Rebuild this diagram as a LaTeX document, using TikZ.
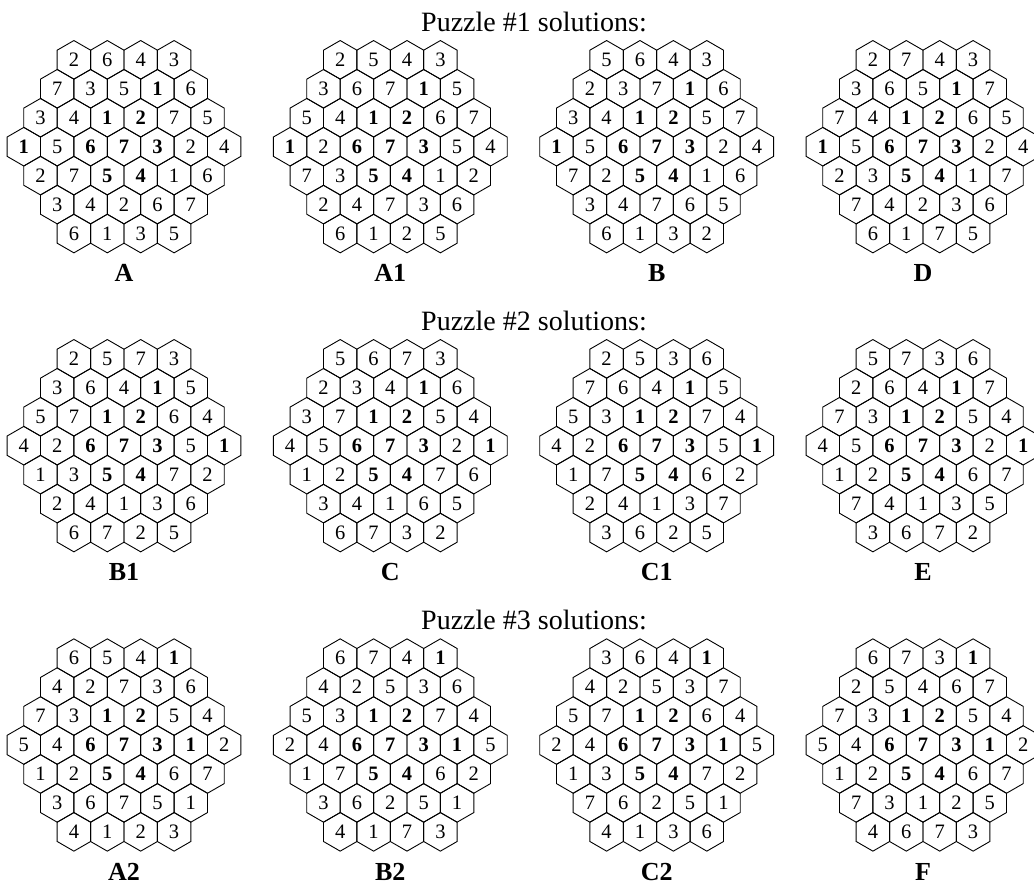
\documentclass[tikz,border=0pt]{standalone}
\usepackage{fontspec}
\setmainfont{Liberation Serif}
\usetikzlibrary{shapes.geometric}

\newcommand{\clue}[1]{\textbf{#1}}
\newcommand{\hexboard}[5]{%
  \foreach \row [count=\r] in {#5} {
    \foreach \v [count=\c] in \row {
      \pgfmathsetmacro{\hx}{#2+(\c-(8-abs(\r-4))/2)*33.4}
      \pgfmathsetmacro{\hy}{#3+(4-\r)*28.95}
      \node[cell] (#1-\r-\c) at (\hx,\hy) {\v};
    }
  }
  \node[boardlabel] (#1) at (#2,#3-135) {#4};
}

\begin{document}
\begin{tikzpicture}[x=1pt,y=1pt,
  cell/.style={draw,line width=0.9pt,regular polygon,regular polygon sides=6,
    shape border rotate=30,minimum size=38.6pt,inner sep=0pt,
    font=\fontsize{20.5}{24}\selectfont},
  boardlabel/.style={anchor=base,font=\bfseries\fontsize{26}{30}\selectfont},
  title/.style={anchor=base,font=\fontsize{28}{32}\selectfont}]
  \useasboundingbox (0,0) rectangle (1034,884);
  \clip (0,0) rectangle (1034,884);

  \node[title] (title1) at (534,852.3) {Puzzle \#1 solutions:};
  \hexboard{A}{124}{737.3}{A}{{2,6,4,3},{7,3,5,\clue1,6},{3,4,\clue1,\clue2,7,5},{\clue1,5,\clue6,\clue7,\clue3,2,4},{2,7,\clue5,\clue4,1,6},{3,4,2,6,7},{6,1,3,5}}
  \hexboard{A1}{390.3}{737.3}{A1}{{2,5,4,3},{3,6,7,\clue1,5},{5,4,\clue1,\clue2,6,7},{\clue1,2,\clue6,\clue7,\clue3,5,4},{7,3,\clue5,\clue4,1,2},{2,4,7,3,6},{6,1,2,5}}
  \hexboard{B}{656.7}{737.3}{B}{{5,6,4,3},{2,3,7,\clue1,6},{3,4,\clue1,\clue2,5,7},{\clue1,5,\clue6,\clue7,\clue3,2,4},{7,2,\clue5,\clue4,1,6},{3,4,7,6,5},{6,1,3,2}}
  \hexboard{D}{923}{737.3}{D}{{2,7,4,3},{3,6,5,\clue1,7},{7,4,\clue1,\clue2,6,5},{\clue1,5,\clue6,\clue7,\clue3,2,4},{2,3,\clue5,\clue4,1,7},{7,4,2,3,6},{6,1,7,5}}

  \node[title] (title2) at (534,553.3) {Puzzle \#2 solutions:};
  \hexboard{B1}{124}{438.3}{B1}{{2,5,7,3},{3,6,4,\clue1,5},{5,7,\clue1,\clue2,6,4},{4,2,\clue6,\clue7,\clue3,5,\clue1},{1,3,\clue5,\clue4,7,2},{2,4,1,3,6},{6,7,2,5}}
  \hexboard{C}{390.3}{438.3}{C}{{5,6,7,3},{2,3,4,\clue1,6},{3,7,\clue1,\clue2,5,4},{4,5,\clue6,\clue7,\clue3,2,\clue1},{1,2,\clue5,\clue4,7,6},{3,4,1,6,5},{6,7,3,2}}
  \hexboard{C1}{656.7}{438.3}{C1}{{2,5,3,6},{7,6,4,\clue1,5},{5,3,\clue1,\clue2,7,4},{4,2,\clue6,\clue7,\clue3,5,\clue1},{1,7,\clue5,\clue4,6,2},{2,4,1,3,7},{3,6,2,5}}
  \hexboard{E}{923}{438.3}{E}{{5,7,3,6},{2,6,4,\clue1,7},{7,3,\clue1,\clue2,5,4},{4,5,\clue6,\clue7,\clue3,2,\clue1},{1,2,\clue5,\clue4,6,7},{7,4,1,3,5},{3,6,7,2}}

  \node[title] (title3) at (534,254) {Puzzle \#3 solutions:};
  \hexboard{A2}{124}{139}{A2}{{6,5,4,\clue1},{4,2,7,3,6},{7,3,\clue1,\clue2,5,4},{5,4,\clue6,\clue7,\clue3,\clue1,2},{1,2,\clue5,\clue4,6,7},{3,6,7,5,1},{4,1,2,3}}
  \hexboard{B2}{390.3}{139}{B2}{{6,7,4,\clue1},{4,2,5,3,6},{5,3,\clue1,\clue2,7,4},{2,4,\clue6,\clue7,\clue3,\clue1,5},{1,7,\clue5,\clue4,6,2},{3,6,2,5,1},{4,1,7,3}}
  \hexboard{C2}{656.7}{139}{C2}{{3,6,4,\clue1},{4,2,5,3,7},{5,7,\clue1,\clue2,6,4},{2,4,\clue6,\clue7,\clue3,\clue1,5},{1,3,\clue5,\clue4,7,2},{7,6,2,5,1},{4,1,3,6}}
  \hexboard{F}{923}{139}{F}{{6,7,3,\clue1},{2,5,4,6,7},{7,3,\clue1,\clue2,5,4},{5,4,\clue6,\clue7,\clue3,\clue1,2},{1,2,\clue5,\clue4,6,7},{7,3,1,2,5},{4,6,7,3}}
\end{tikzpicture}
\end{document}
